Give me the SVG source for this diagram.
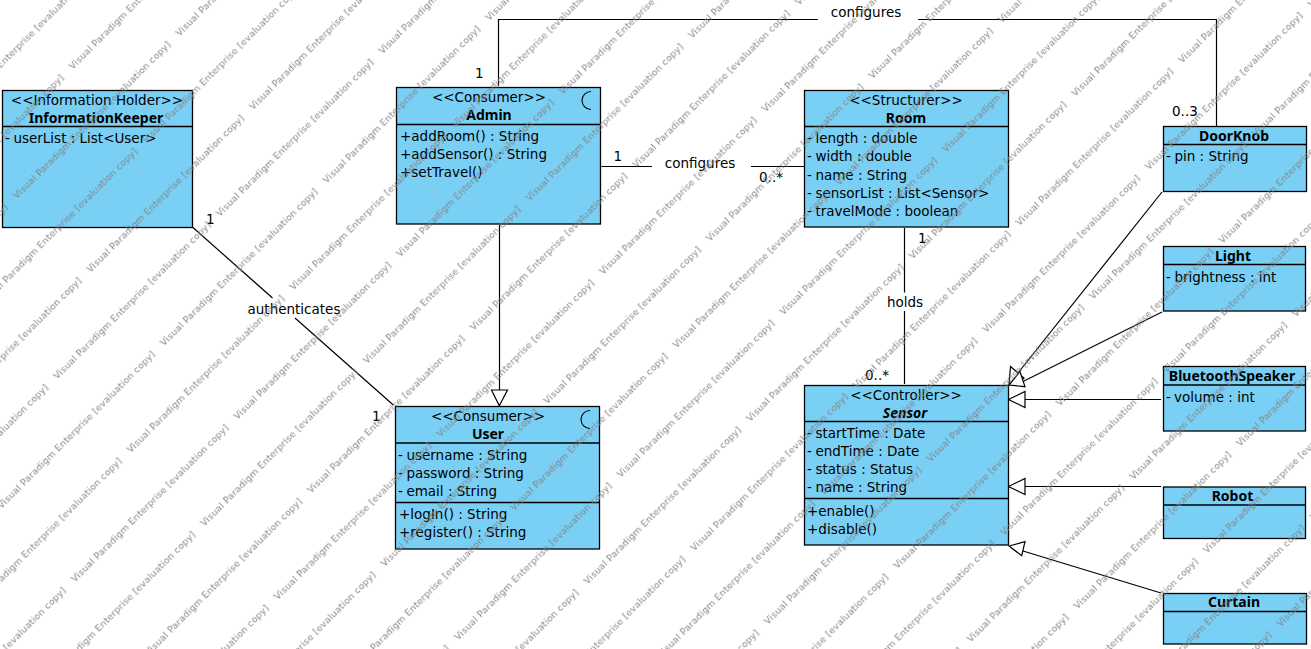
<svg xmlns="http://www.w3.org/2000/svg" width="1311" height="649" viewBox="0 0 1311 649">
<style>
text{font-family:"DejaVu Sans","Liberation Sans",sans-serif;font-size:13.5px;fill:#000}
.c{text-anchor:middle}
.b{font-family:"Noto Sans","DejaVu Sans",sans-serif;font-weight:bold;font-size:14px}
.i{font-family:"Noto Sans","DejaVu Sans",sans-serif;font-weight:bold;font-style:italic;font-size:14px}
.box{fill:#7acff5;stroke:#000;stroke-width:1.3}
.div{stroke:#000;stroke-width:1.3;fill:none}
.con{stroke:#000;stroke-width:1.2;fill:none}
.head{fill:#fff;stroke:#000;stroke-width:1.2}
.wm{font-size:9.3px;letter-spacing:.2px;fill:#808080}
.moon{fill:none;stroke:#000;stroke-width:1.1}
</style>
<defs>
<text id="w" class="wm">Visual Paradigm Enterprise [evaluation copy]</text>
<g id="r0"><use href="#w" x="-460"/><use href="#w" x="-230"/><use href="#w" x="0"/><use href="#w" x="230"/><use href="#w" x="460"/><use href="#w" x="690"/><use href="#w" x="920"/></g>
<g id="r1"><use href="#w" x="-591"/><use href="#w" x="-361"/><use href="#w" x="-131"/><use href="#w" x="99"/><use href="#w" x="329"/><use href="#w" x="559"/><use href="#w" x="789"/></g>
</defs>
<rect width="1311" height="649" fill="#fff"/>
<g id="connectors">
<path class="con" d="M498.500 86V19.500H818M918 19.500H1216.500V126"/>
<path class="con" d="M601.500 166.500H652M751 166.500H804"/>
<path class="con" d="M192.700 227.300L272.500 298M295 318L393.300 405"/>
<path class="con" d="M499.500 225V391"/>
<path class="con" d="M904.500 228V292.500M904.500 311V384"/>
<path class="con" d="M1162 192L1018 373"/>
<path class="con" d="M1162 312L1022 382"/>
<path class="con" d="M1161 399.500H1025"/>
<path class="con" d="M1161 486.500H1025"/>
<path class="con" d="M1161 593L1023 551"/>
<polygon class="head" points="499.300,405.700 491.500,390 507.500,390"/>
<polygon class="head" points="1008.500,399.500 1025,391.500 1025,407.500"/>
<polygon class="head" points="1008.500,486.500 1025,478.500 1025,494.500"/>
<polygon class="head" points="1009,546 1025,541.700 1021.700,555.700"/>
<polygon class="head" points="1009,385 1010.500,366.500 1024,378"/>
<polygon class="head" points="1009,385 1020,371.500 1025,386.700"/>
</g>
<g id="labels">
<text class="c" x="866" y="17">configures</text>
<text x="475" y="78">1</text>
<text x="1172" y="116">0..3</text>
<text x="613.500" y="161">1</text>
<text class="c" x="700" y="168">configures</text>
<text x="759" y="182">0..*</text>
<text x="206" y="224">1</text>
<text x="372" y="421">1</text>
<text class="c" x="294" y="314">authenticates</text>
<text x="918" y="243">1</text>
<text class="c" x="905" y="307">holds</text>
<text x="865" y="380">0..*</text>
</g>
<g id="InformationKeeper">
<rect class="box" x="2.500" y="90.500" width="190" height="137"/>
<path class="div" d="M2.500 126.500H192.500"/>
<text class="c" x="97" y="105">&lt;&lt;Information Holder&gt;&gt;</text>
<text class="c b" x="96" y="123">InformationKeeper</text>
<text x="5" y="143">-<tspan dx="3.500">userList : List&lt;User&gt;</tspan></text>
</g>
<g id="Admin">
<rect class="box" x="396.500" y="87.500" width="204" height="136.500"/>
<path class="div" d="M396.500 124.500H600.500"/>
<path class="moon" d="M591 91.500A9 9 0 0 0 591 109.500"/>
<text class="c" x="489" y="102">&lt;&lt;Consumer&gt;&gt;</text>
<text class="c b" x="489" y="120">Admin</text>
<text x="400" y="141">+addRoom() : String</text>
<text x="400" y="159">+addSensor() : String</text>
<text x="400" y="177">+setTravel()</text>
</g>
<g id="User">
<rect class="box" x="395.500" y="406.500" width="204" height="142.500"/>
<path class="div" d="M395.500 443H599.500M395.500 502.500H599.500"/>
<path class="moon" d="M590 410.500A9 9 0 0 0 590 428.500"/>
<text class="c" x="488" y="421">&lt;&lt;Consumer&gt;&gt;</text>
<text class="c b" x="488" y="439">User</text>
<text x="398" y="460">-<tspan dx="3.500">username : String</tspan></text>
<text x="398" y="478">-<tspan dx="3.500">password : String</tspan></text>
<text x="398" y="496">-<tspan dx="3.500">email : String</tspan></text>
<text x="399" y="519">+logIn() : String</text>
<text x="399" y="537">+register() : String</text>
</g>
<g id="Room">
<rect class="box" x="804.500" y="90.500" width="204" height="136.500"/>
<path class="div" d="M804.500 126.500H1008.500"/>
<text class="c" x="906" y="105">&lt;&lt;Structurer&gt;&gt;</text>
<text class="c b" x="906" y="123">Room</text>
<text x="807" y="143">-<tspan dx="3.500">length : double</tspan></text>
<text x="807" y="161">-<tspan dx="3.500">width : double</tspan></text>
<text x="807" y="180">-<tspan dx="3.500">name : String</tspan></text>
<text x="807" y="198">-<tspan dx="3.500">sensorList : List&lt;Sensor&gt;</tspan></text>
<text x="807" y="216">-<tspan dx="3.500">travelMode : boolean</tspan></text>
</g>
<g id="Sensor">
<rect class="box" x="804.500" y="385.500" width="204" height="159.500"/>
<path class="div" d="M804.500 421.500H1008.500M804.500 498.500H1008.500"/>
<text class="c" x="906" y="400">&lt;&lt;Controller&gt;&gt;</text>
<text class="c i" x="905" y="418">Sensor</text>
<text x="807" y="438">-<tspan dx="3.500">startTime : Date</tspan></text>
<text x="807" y="456">-<tspan dx="3.500">endTime : Date</tspan></text>
<text x="807" y="474">-<tspan dx="3.500">status : Status</tspan></text>
<text x="807" y="492">-<tspan dx="3.500">name : String</tspan></text>
<text x="807" y="516">+enable()</text>
<text x="807" y="534">+disable()</text>
</g>
<g id="DoorKnob">
<rect class="box" x="1163.500" y="126.500" width="143" height="65"/>
<path class="div" d="M1163.500 144.500H1306.500"/>
<text class="c b" x="1234" y="141">DoorKnob</text>
<text x="1166" y="161">-<tspan dx="3.500">pin : String</tspan></text>
</g>
<g id="Light">
<rect class="box" x="1163.500" y="246.500" width="142" height="64.500"/>
<path class="div" d="M1163.500 264.500H1305.500"/>
<text class="c b" x="1233" y="261">Light</text>
<text x="1166" y="282">-<tspan dx="3.500">brightness : int</tspan></text>
</g>
<g id="BluetoothSpeaker">
<rect class="box" x="1163.500" y="366.500" width="142" height="64.500"/>
<path class="div" d="M1163.500 385H1305.500"/>
<text class="c b" x="1232" y="381">BluetoothSpeaker</text>
<text x="1166" y="402">-<tspan dx="3.500">volume : int</tspan></text>
</g>
<g id="Robot">
<rect class="box" x="1163.500" y="487" width="142" height="51.500"/>
<path class="div" d="M1163.500 505H1305.500"/>
<text class="c b" x="1232.500" y="501">Robot</text>
</g>
<g id="Curtain">
<rect class="box" x="1163.500" y="593.500" width="143" height="50.500"/>
<path class="div" d="M1163.500 611.500H1306.500"/>
<text class="c b" x="1234" y="607">Curtain</text>
</g>
<g id="watermark" opacity=".95" transform="rotate(-45) translate(2,2)">
<use href="#r1" y="47"/><use href="#r0" y="99"/><use href="#r1" y="151"/><use href="#r0" y="203"/><use href="#r1" y="255"/><use href="#r0" y="307"/><use href="#r1" y="359"/><use href="#r0" y="411"/><use href="#r1" y="463"/><use href="#r0" y="515"/><use href="#r1" y="567"/><use href="#r0" y="619"/><use href="#r1" y="671"/><use href="#r0" y="723"/><use href="#r1" y="775"/><use href="#r0" y="827"/><use href="#r1" y="879"/><use href="#r0" y="931"/><use href="#r1" y="983"/><use href="#r0" y="1035"/><use href="#r1" y="1087"/><use href="#r0" y="1139"/><use href="#r1" y="1191"/><use href="#r0" y="1243"/><use href="#r1" y="1295"/><use href="#r0" y="1347"/>
</g>
</svg>
